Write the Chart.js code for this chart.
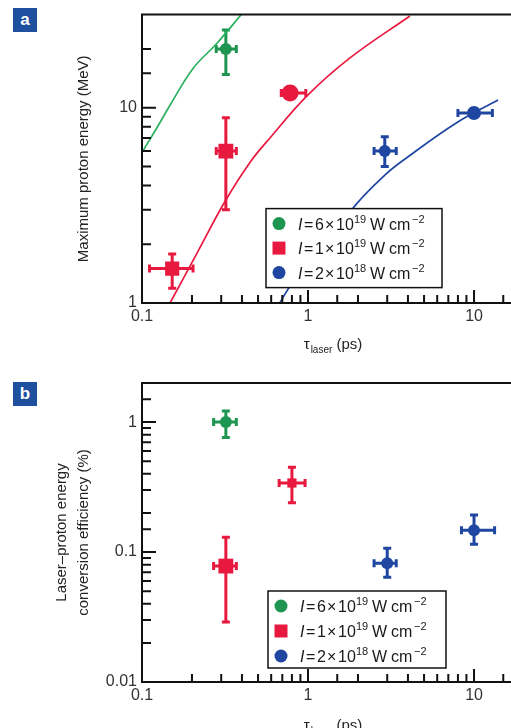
<!DOCTYPE html>
<html><head><meta charset="utf-8">
<script src="https://cdn.jsdelivr.net/npm/chart.js@4.4.1/dist/chart.umd.min.js"></script>
<style>
html,body{margin:0;padding:0;background:#fff;overflow:hidden;width:511px;height:728px;}
#wrap{position:relative;width:511px;height:728px;overflow:hidden;background:#fff;}
canvas{position:absolute;left:0;}
#ca{top:0}
#cb{top:365px}
.tag{position:absolute;left:13px;width:24px;height:24px;background:#1f4f9f;color:#fff;font:bold 17px "Liberation Sans",Arial,sans-serif;text-align:center;line-height:23px;}
</style></head><body>
<div id="wrap">
<canvas id="ca" width="540" height="365"></canvas>
<canvas id="cb" width="540" height="380"></canvas>
<div class="tag" style="top:8px">a</div>
<div class="tag" style="top:382px">b</div>
</div>
<script>
// ---------------- DATA ----------------
const xTickValues = [0.1, 1, 10];
const xTickLabels = ['0.1', '1', '10'];
const aYTickValues = [1, 10];
const aYTickLabels = ['1', '10'];
const bYTickValues = [0.01, 0.1, 1];
const bYTickLabels = ['0.01', '0.1', '1'];

const legendMantissas = ['6', '1', '2'];
const legendExponents = ['19', '19', '18'];

// Panel a : maximum proton energy (MeV) vs tau_laser (ps)
const aGreenTau = [0.32],  aGreenTauLo = [0.28],  aGreenTauHi = [0.37];
const aGreenE   = [20],    aGreenELo   = [14.8],  aGreenEHi   = [25];
const aRedTau   = [0.152, 0.32, 0.78], aRedTauLo = [0.111, 0.28, 0.69], aRedTauHi = [0.203, 0.37, 0.97];
const aRedE     = [1.5, 6.0, 11.9],    aRedELo   = [1.19, 3.0, 11.4],   aRedEHi   = [1.78, 8.9, 12.4];
const aBlueTau  = [2.9, 10.0], aBlueTauLo = [2.5, 8.0], aBlueTauHi = [3.4, 12.9];
const aBlueE    = [6.0, 9.4],  aBlueELo   = [5.0, 9.0], aBlueEHi   = [7.1, 9.9];

// model curves (panel a)
const greenCurveTau = [0.1, 0.123, 0.1475, 0.203, 0.283, 0.40];
const greenCurveE   = [5.9, 7.9, 10.3, 15.9, 21.4, 30.3];
const redCurveTau   = [0.1475, 0.2145, 0.316, 0.447, 0.59, 0.986, 1.79, 4.11];
const redCurveE     = [1.0, 1.80, 3.31, 5.25, 7.0, 11.5, 18.0, 29.5];
const blueCurveTau  = [0.676, 0.80, 1.95, 2.99, 3.73, 7.9, 13.96];
const blueCurveE    = [1.0, 1.26, 3.2, 4.62, 5.37, 8.41, 10.96];

// Panel b : conversion efficiency (%) vs tau_laser (ps)
const bGreenTau = [0.32],  bGreenTauLo = [0.27], bGreenTauHi = [0.37];
const bGreenEff = [1.0],   bGreenEffLo = [0.76], bGreenEffHi = [1.22];
const bRedTau   = [0.32, 0.8],   bRedTauLo = [0.27, 0.67],  bRedTauHi = [0.37, 0.96];
const bRedEff   = [0.078, 0.34], bRedEffLo = [0.029, 0.24], bRedEffHi = [0.13, 0.45];
const bBlueTau  = [3.0, 10.0],   bBlueTauLo = [2.5, 8.4],   bBlueTauHi = [3.4, 13.3];
const bBlueEff  = [0.082, 0.147],bBlueEffLo = [0.064, 0.115], bBlueEffHi = [0.107, 0.193];

// ---------------- STYLE ----------------
const FONT = '"Liberation Sans", Arial, Helvetica, sans-serif';
const GREEN = '#1f9552', GREEN_LINE = '#2bb060', RED = '#e8193f', BLUE = '#1f46a0';

function pts(xs, ys) { return xs.map((x, i) => ({x: x, y: ys[i]})); }
function labelFor(v, vals, labels) {
  for (let i = 0; i < vals.length; i++) {
    if (Math.abs(Math.log10(v) - Math.log10(vals[i])) < 1e-6) return labels[i];
  }
  return '';
}
function isPow10(v) { const l = Math.log10(v); return Math.abs(l - Math.round(l)) < 1e-6; }

function makePlugin(cfg) {
  return {
    id: 'deco' + cfg.id,
    beforeDatasetsDraw(chart) {
      const ctx = chart.ctx, xs = chart.scales.x, ys = chart.scales.y, ca = chart.chartArea;
      ctx.save();
      ctx.beginPath(); ctx.rect(ca.left, ca.top, ca.right - ca.left, ca.bottom - ca.top); ctx.clip();
      ctx.lineWidth = 3; ctx.lineCap = 'butt';
      cfg.errs.forEach(e => {
        ctx.strokeStyle = e.color;
        for (let i = 0; i < e.x.length; i++) {
          const px = xs.getPixelForValue(e.x[i]), py = ys.getPixelForValue(e.y[i]);
          const x1 = xs.getPixelForValue(e.xlo[i]), x2 = xs.getPixelForValue(e.xhi[i]);
          const y1 = ys.getPixelForValue(e.ylo[i]), y2 = ys.getPixelForValue(e.yhi[i]);
          ctx.beginPath();
          ctx.moveTo(x1, py); ctx.lineTo(x2, py);
          ctx.moveTo(px, y1); ctx.lineTo(px, y2);
          ctx.moveTo(x1, py - 4); ctx.lineTo(x1, py + 4);
          ctx.moveTo(x2, py - 4); ctx.lineTo(x2, py + 4);
          ctx.moveTo(px - 4, y1); ctx.lineTo(px + 4, y1);
          ctx.moveTo(px - 4, y2); ctx.lineTo(px + 4, y2);
          ctx.stroke();
        }
      });
      ctx.restore();
    },
    afterDraw(chart) {
      const ctx = chart.ctx, xs = chart.scales.x, ys = chart.scales.y, ca = chart.chartArea;
      ctx.save();
      // axes lines
      ctx.strokeStyle = '#111'; ctx.lineWidth = 2;
      ctx.beginPath();
      ctx.moveTo(ca.left, ca.top); ctx.lineTo(ca.right + 20, ca.top);
      ctx.moveTo(ca.left, ca.top - 1); ctx.lineTo(ca.left, ca.bottom + 1);
      ctx.moveTo(ca.left - 1, ca.bottom); ctx.lineTo(ca.right + 20, ca.bottom);
      ctx.stroke();
      // inward ticks
      ctx.beginPath();
      xs.ticks.forEach(t => {
        const px = xs.getPixelForValue(t.value);
        if (px < ca.left + 1 || px > ca.right) return;
        const L = isPow10(t.value) ? 13 : 8;
        ctx.moveTo(px, ca.bottom); ctx.lineTo(px, ca.bottom - L);
      });
      ys.ticks.forEach(t => {
        const py = ys.getPixelForValue(t.value);
        if (py > ca.bottom - 1 || py < ca.top + 1) return;
        const L = isPow10(t.value) ? 14 : 9;
        ctx.moveTo(ca.left, py); ctx.lineTo(ca.left + L, py);
      });
      ctx.stroke();

      // x title: tau_laser (ps)
      const cx = (ca.left + ca.right) / 2;
      const base = ca.bottom + cfg.xtOff;
      ctx.fillStyle = '#222'; ctx.textBaseline = 'alphabetic'; ctx.textAlign = 'left';
      const f1 = '15px ' + FONT, f2 = '10px ' + FONT;
      ctx.font = f1; const w1 = ctx.measureText('τ').width, w3 = ctx.measureText(' (ps)').width;
      ctx.font = f2; const w2 = ctx.measureText('laser').width;
      let x0 = cx - (w1 + 1 + w2 + w3) / 2;
      ctx.font = f1; ctx.fillText('τ', x0, base); x0 += w1 + 1;
      ctx.font = f2; ctx.fillText('laser', x0, base + 4); x0 += w2;
      ctx.font = f1; ctx.fillText(' (ps)', x0, base);

      // legend
      const L = cfg.legend;
      const bx = ca.left + L.dx, by = ca.top + L.dy;
      ctx.fillStyle = '#fff';
      ctx.fillRect(bx, by, L.w, L.h);
      ctx.strokeStyle = '#111'; ctx.lineWidth = 1.5;
      ctx.strokeRect(bx, by, L.w, L.h);
      const colors = [GREEN, RED, BLUE];
      for (let i = 0; i < 3; i++) {
        const ry = by + 15 + i * L.row;
        const mx = bx + 13;
        ctx.fillStyle = colors[i];
        ctx.beginPath();
        if (i === 1) ctx.rect(mx - 6.5, ry - 6.5, 13, 13);
        else ctx.arc(mx, ry, 6.5, 0, Math.PI * 2);
        ctx.fill();
        ctx.fillStyle = '#1a1a1a';
        const tx = bx + 31;
        const bl = ry + 6;
        ctx.font = 'italic 16px ' + FONT; ctx.fillText('I', tx + 1, bl);
        ctx.font = '16px ' + FONT;
        ctx.fillText('=', tx + 7, bl);
        ctx.fillText(legendMantissas[i], tx + 18, bl);
        ctx.fillText('×', tx + 28, bl);
        ctx.fillText('10', tx + 39, bl);
        ctx.fillText('W', tx + 73, bl);
        ctx.fillText('cm', tx + 92, bl);
        ctx.font = '11px ' + FONT;
        ctx.fillText(legendExponents[i], tx + 57, bl - 7);
        ctx.fillText('−2', tx + 115, bl - 7);
      }
      ctx.restore();
    }
  };
}

function makeChart(canvasId, cfg) {
  return new Chart(document.getElementById(canvasId), {
    type: 'scatter',
    data: { datasets: cfg.datasets },
    options: {
      responsive: false, animation: false, events: [],
      layout: { padding: { left: 0, top: cfg.top, right: 16, bottom: 0 } },
      plugins: { legend: { display: false }, tooltip: { enabled: false } },
      scales: {
        x: {
          type: 'logarithmic', min: 0.1, max: 20, position: 'bottom',
          grid: { display: false, drawTicks: false }, border: { display: false },
          ticks: { autoSkip: false, maxRotation: 0, padding: 4, color: '#333',
                   font: { family: FONT, size: 16 },
                   callback: v => labelFor(v, xTickValues, xTickLabels) },
          afterFit: s => { s.height = cfg.xh; }
        },
        y: {
          type: 'logarithmic', min: cfg.ymin, max: cfg.ymax, position: 'left',
          grid: { display: false, drawTicks: false }, border: { display: false },
          ticks: { autoSkip: false, padding: 5, color: '#333',
                   font: { family: FONT, size: 16 },
                   callback: v => labelFor(v, cfg.yvals, cfg.ylabels) },
          title: { display: true, text: cfg.ytitle, color: '#222',
                   font: { family: FONT, size: 15, lineHeight: cfg.ylh },
                   padding: { top: cfg.ytp, bottom: 0 } },
          afterFit: s => { s.width = 142; }
        }
      }
    },
    plugins: [makePlugin(cfg)]
  });
}

function curve(xs, ys, color) {
  return { data: pts(xs, ys), showLine: true, borderColor: color, borderWidth: 1.7,
           pointRadius: 0, tension: 0.4, fill: false, order: 5 };
}
function markers(xs, ys, color, style, radius) {
  return { data: pts(xs, ys), showLine: false, backgroundColor: color, borderColor: color,
           borderWidth: 0, pointStyle: style, pointRadius: radius, order: 1 };
}

makeChart('ca', {
  id: 'a', top: 9, xh: 62, ymin: 1, ymax: 30, xtOff: 46,
  yvals: aYTickValues, ylabels: aYTickLabels,
  ytitle: 'Maximum proton energy (MeV)', ylh: 1.2, ytp: 75,
  legend: { dx: 124, dy: 194, w: 176, h: 79, row: 24.5 },
  datasets: [
    curve(greenCurveTau, greenCurveE, GREEN_LINE),
    curve(redCurveTau, redCurveE, RED),
    curve(blueCurveTau, blueCurveE, BLUE),
    markers(aGreenTau, aGreenE, GREEN, 'circle', 6),
    markers(aRedTau, aRedE, RED, ['rect', 'rect', 'circle'], [10, 10.5, 8.5]),
    markers(aBlueTau, aBlueE, BLUE, 'circle', [6, 7])
  ],
  errs: [
    { color: GREEN, x: aGreenTau, y: aGreenE, xlo: aGreenTauLo, xhi: aGreenTauHi, ylo: aGreenELo, yhi: aGreenEHi },
    { color: RED, x: aRedTau, y: aRedE, xlo: aRedTauLo, xhi: aRedTauHi, ylo: aRedELo, yhi: aRedEHi },
    { color: BLUE, x: aBlueTau, y: aBlueE, xlo: aBlueTauLo, xhi: aBlueTauHi, ylo: aBlueELo, yhi: aBlueEHi }
  ]
});

makeChart('cb', {
  id: 'b', top: 18, xh: 63, ymin: 0.01, ymax: 2, xtOff: 48,
  yvals: bYTickValues, ylabels: bYTickLabels,
  ytitle: ['Laser–proton energy', 'conversion efficiency (%)'], ylh: 22 / 15, ytp: 51,
  legend: { dx: 126, dy: 208, w: 178, h: 77, row: 25 },
  datasets: [
    markers(bGreenTau, bGreenEff, GREEN, 'circle', 6),
    markers(bRedTau, bRedEff, RED, 'rect', [10.5, 6.5]),
    markers(bBlueTau, bBlueEff, BLUE, 'circle', 6)
  ],
  errs: [
    { color: GREEN, x: bGreenTau, y: bGreenEff, xlo: bGreenTauLo, xhi: bGreenTauHi, ylo: bGreenEffLo, yhi: bGreenEffHi },
    { color: RED, x: bRedTau, y: bRedEff, xlo: bRedTauLo, xhi: bRedTauHi, ylo: bRedEffLo, yhi: bRedEffHi },
    { color: BLUE, x: bBlueTau, y: bBlueEff, xlo: bBlueTauLo, xhi: bBlueTauHi, ylo: bBlueEffLo, yhi: bBlueEffHi }
  ]
});
</script>
</body></html>
